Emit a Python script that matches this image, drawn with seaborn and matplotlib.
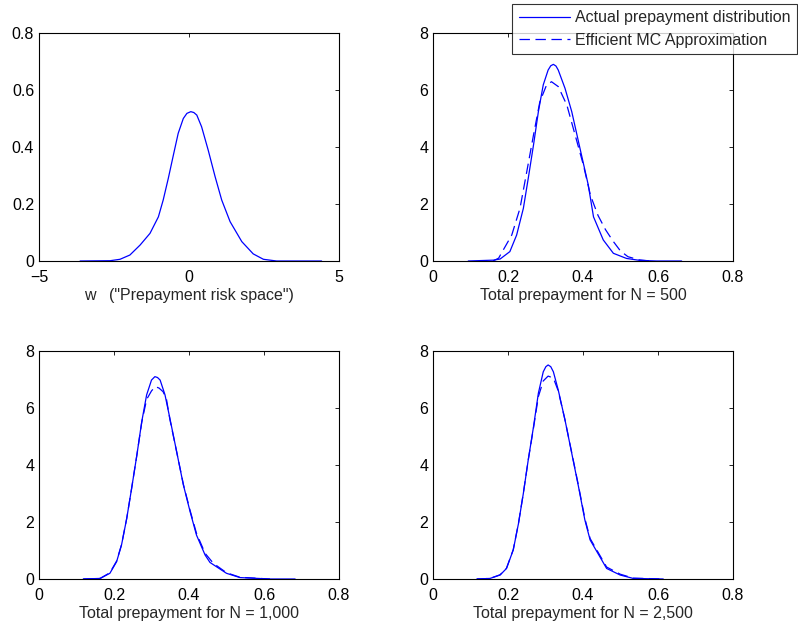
import matplotlib
matplotlib.use("Agg")
import matplotlib.pyplot as plt
import seaborn as sns

# density of w ("prepayment risk space")
w_x = [-3.63, -2.63, -2.3, -1.97, -1.63, -1.3, -1.02, -0.86, -0.69, -0.52, -0.36, -0.19,
       -0.07, 0.06, 0.16, 0.26, 0.42, 0.64, 0.87, 1.09, 1.37, 1.76, 2.14, 2.48, 2.92, 4.42]
w_y = [0.0, 0.001, 0.006, 0.021, 0.056, 0.097, 0.155, 0.214, 0.29, 0.372, 0.448, 0.50,
       0.518, 0.524, 0.521, 0.512, 0.471, 0.389, 0.296, 0.214, 0.138, 0.068, 0.025, 0.006, 0.0, 0.0]

# N = 500
a500_x = [0.094, 0.161, 0.179, 0.205, 0.223, 0.241, 0.254, 0.268, 0.281, 0.294, 0.307, 0.314, 0.321,
          0.328, 0.334, 0.352, 0.370, 0.392, 0.414, 0.428, 0.454, 0.481, 0.516, 0.552, 0.596, 0.663]
a500_y = [0.0, 0.03, 0.07, 0.33, 0.91, 1.85, 2.9, 4.07, 5.24, 6.18, 6.70, 6.85, 6.90,
          6.84, 6.70, 6.06, 5.24, 3.95, 2.67, 1.55, 0.74, 0.27, 0.09, 0.02, 0.0, 0.0]
e500_x = [0.16, 0.175, 0.1875, 0.21, 0.232, 0.25, 0.268, 0.285, 0.303, 0.316, 0.334, 0.357,
          0.379, 0.401, 0.42, 0.44, 0.46, 0.48, 0.50, 0.52, 0.55, 0.58]
e500_y = [0.0, 0.1, 0.39, 0.91, 1.85, 3.13, 4.42, 5.59, 6.18, 6.29, 6.12, 5.47,
          4.42, 3.37, 2.3, 1.6, 1.1, 0.7, 0.35, 0.15, 0.04, 0.0]

# N = 1,000
a1000_x = [0.118, 0.163, 0.189, 0.207, 0.22, 0.234, 0.247, 0.261, 0.274, 0.287, 0.30, 0.309,
           0.316, 0.323, 0.336, 0.349, 0.367, 0.385, 0.403, 0.42, 0.443, 0.456, 0.50, 0.536, 0.616, 0.683]
a1000_y = [0.0, 0.02, 0.2, 0.61, 1.19, 2.13, 3.18, 4.35, 5.52, 6.46, 6.98, 7.10,
           7.07, 6.98, 6.46, 5.64, 4.47, 3.30, 2.36, 1.54, 0.84, 0.58, 0.2, 0.05, 0.0, 0.0]
e1000_x = [0.118, 0.163, 0.189, 0.207, 0.22, 0.234, 0.247, 0.261, 0.274, 0.287, 0.30, 0.31,
           0.32, 0.331, 0.34, 0.349, 0.367, 0.385, 0.403, 0.42, 0.443, 0.465, 0.50, 0.536, 0.616]
e1000_y = [0.0, 0.02, 0.22, 0.63, 1.2, 2.13, 3.18, 4.35, 5.5, 6.3, 6.6, 6.75,
           6.7, 6.57, 6.3, 5.6, 4.47, 3.32, 2.4, 1.6, 0.9, 0.55, 0.22, 0.06, 0.0]

# N = 2,500
a2500_x = [0.117, 0.152, 0.179, 0.196, 0.214, 0.228, 0.241, 0.254, 0.268, 0.281, 0.294, 0.301, 0.307,
           0.314, 0.321, 0.334, 0.352, 0.37, 0.388, 0.405, 0.419, 0.463, 0.499, 0.534, 0.614]
a2500_y = [0.0, 0.02, 0.14, 0.37, 1.02, 1.95, 3.01, 4.18, 5.34, 6.52, 7.27, 7.45, 7.51,
           7.45, 7.27, 6.63, 5.58, 4.41, 3.24, 2.07, 1.37, 0.37, 0.14, 0.02, 0.0]
e2500_x = [0.117, 0.152, 0.179, 0.196, 0.214, 0.228, 0.241, 0.254, 0.268, 0.281, 0.294, 0.307,
           0.321, 0.334, 0.352, 0.37, 0.388, 0.405, 0.419, 0.463, 0.499, 0.534, 0.614]
e2500_y = [0.0, 0.02, 0.15, 0.38, 1.03, 1.96, 3.02, 4.18, 5.3, 6.4, 6.95, 7.12,
           7.05, 6.6, 5.58, 4.43, 3.27, 2.12, 1.42, 0.42, 0.17, 0.03, 0.0]

xlabels = ['w   ("Prepayment risk space")', "Total prepayment for N = 500",
           "Total prepayment for N = 1,000", "Total prepayment for N = 2,500"]
legend_labels = ["Actual prepayment distribution", "Efficient MC Approximation"]

sns.set_style("white")
plt.rcParams["font.family"] = ["Liberation Sans", "DejaVu Sans"]
plt.rcParams["lines.scale_dashes"] = False

fig = plt.figure(figsize=(7.98, 6.21), dpi=100)
W, H = 300 / 798, 228 / 621
ax1 = fig.add_axes([39 / 798, 1 - 261 / 621, W, H])
ax2 = fig.add_axes([433 / 798, 1 - 261 / 621, W, H])
ax3 = fig.add_axes([39 / 798, 1 - 579 / 621, W, H])
ax4 = fig.add_axes([433 / 798, 1 - 579 / 621, W, H])
axes = [ax1, ax2, ax3, ax4]

blue = "#0000ff"
dash = (0, (7.5, 4))
sns.lineplot(x=w_x, y=w_y, ax=ax1, color=blue, lw=0.9, sort=False)
pairs = [(ax2, a500_x, a500_y, e500_x, e500_y),
         (ax3, a1000_x, a1000_y, e1000_x, e1000_y),
         (ax4, a2500_x, a2500_y, e2500_x, e2500_y)]
for ax, ax_, ay_, ex_, ey_ in pairs:
    sns.lineplot(x=ax_, y=ay_, ax=ax, color=blue, lw=0.9, sort=False)
    sns.lineplot(x=ex_, y=ey_, ax=ax, color=blue, lw=0.9, linestyle=dash, sort=False)

ax1.set_xlim(-5, 5)
ax1.set_ylim(0, 0.8)
ax1.set_xticks([-5, 0, 5])
ax1.set_yticks([0, 0.2, 0.4, 0.6, 0.8])
ax1.set_yticklabels(["0", "0.2", "0.4", "0.6", "0.8"])
for ax in axes[1:]:
    ax.set_xlim(0, 0.8)
    ax.set_ylim(0, 8)
    ax.set_xticks([0, 0.2, 0.4, 0.6, 0.8])
    ax.set_xticklabels(["0", "0.2", "0.4", "0.6", "0.8"])
    ax.set_yticks([0, 2, 4, 6, 8])

for i, ax in enumerate(axes):
    ax.tick_params(direction="in", top=True, right=True, length=3, width=0.6,
                   labelsize=11.5, colors="black")
    ax.tick_params(axis="x", pad=6.5)
    ax.tick_params(axis="y", pad=3.5)
    for s in ax.spines.values():
        s.set_linewidth(0.8)
        s.set_color("black")
    ax.set_xlabel(xlabels[i], fontsize=11.5)
    ax.xaxis.set_label_coords(0.5, -0.12)

lines = ax2.get_lines()
leg = fig.legend(lines[:2], legend_labels, loc="upper right", bbox_to_anchor=(0.999, 0.994),
                 fontsize=11.5, frameon=True, fancybox=False, handlelength=3.2,
                 borderpad=0.42, labelspacing=0.45, handletextpad=0.3, borderaxespad=0)
leg.get_frame().set_edgecolor("black")
leg.get_frame().set_linewidth(0.8)

fig.savefig("out.png", dpi=100)
